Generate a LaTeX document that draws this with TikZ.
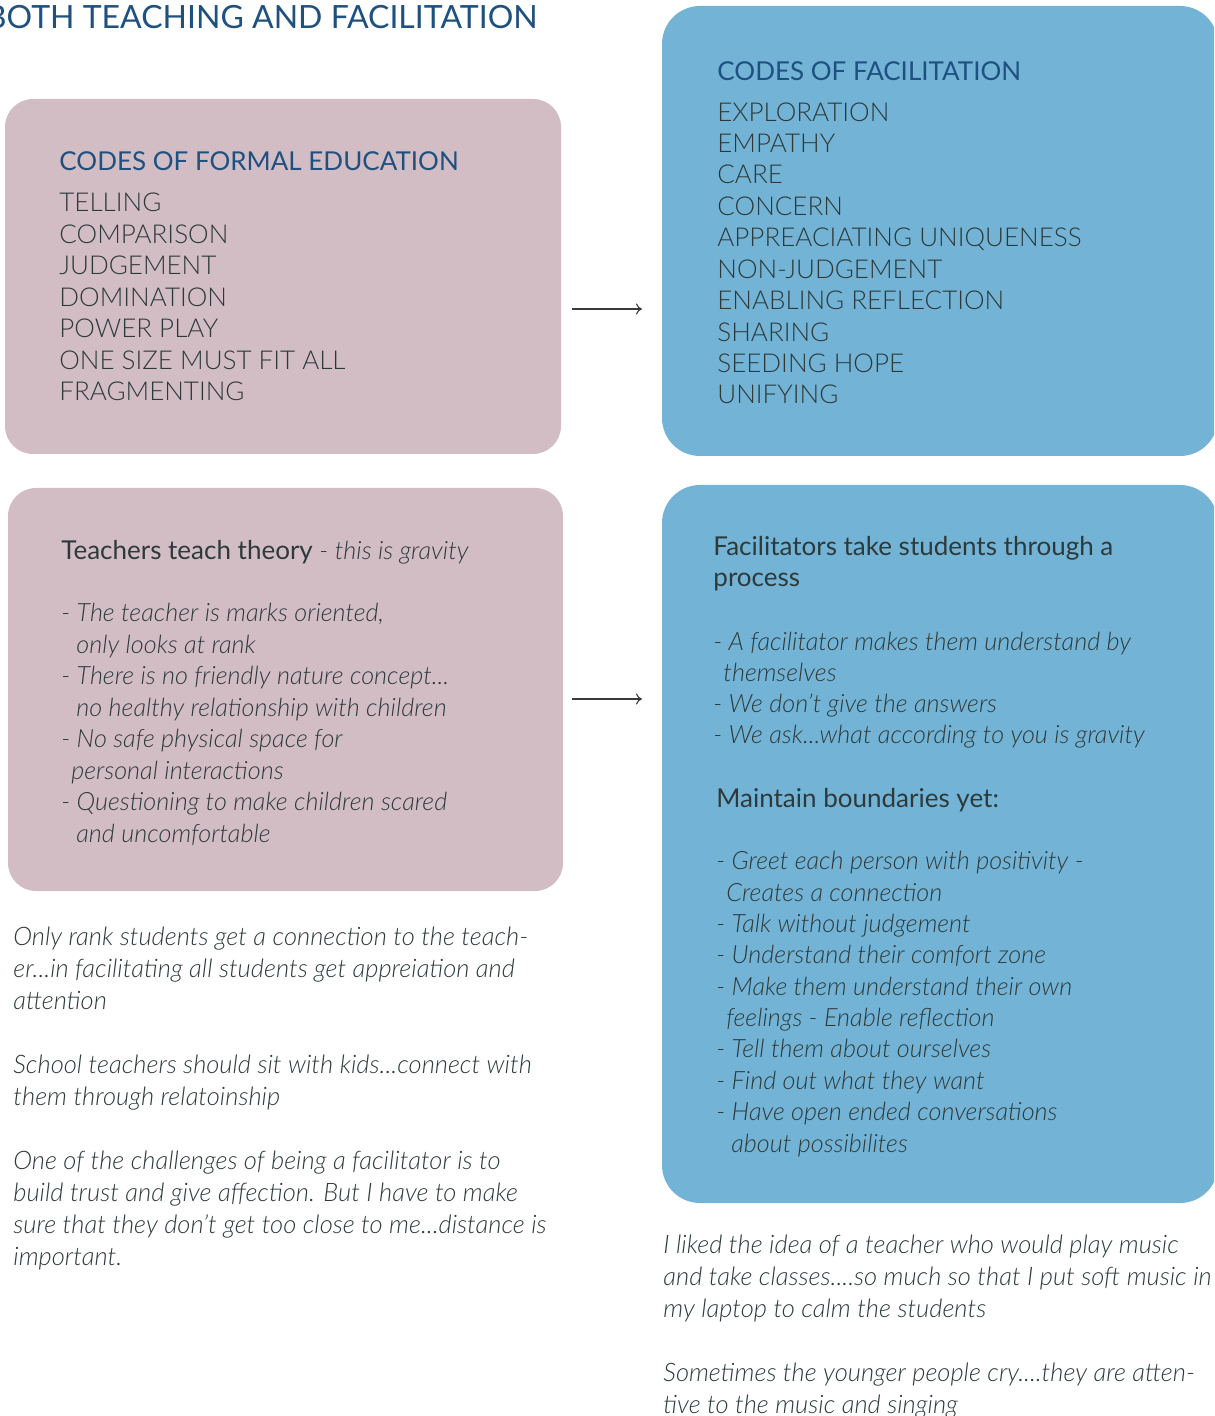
\documentclass[tikz,border=0pt]{standalone}
\usepackage{fontspec}
\setmainfont{Lato}[UprightFont=* Light, ItalicFont=* Light Italic, BoldFont=*, BoldItalicFont=* Italic]
\newfontfamily\latoreg{Lato}
\usetikzlibrary{arrows.meta}
\definecolor{pinkc}{HTML}{D3BDC5}
\definecolor{bluec}{HTML}{73B4D6}
\definecolor{headc}{HTML}{1E5080}
\definecolor{textc}{HTML}{2E3A3A}
\definecolor{arrc}{HTML}{3A3A3A}
\begin{document}
\begin{tikzpicture}[x=0.5pt,y=-0.5pt,
  pinkbox/.style={rounded corners=14pt, inner sep=0, fill=pinkc, draw=none},
  bluebox/.style={rounded corners=19pt, inner sep=0, fill=bluec, draw=none},
  txt/.style={anchor=base west, align=left, inner sep=0, text=textc},
  body/.style={txt, font=\fontsize{13}{#1}\selectfont},
  ibody/.style={txt, font=\itshape\fontsize{12.6}{#1}\selectfont},
  nbody/.style={txt, font=\itshape\fontsize{12.75}{#1}\selectfont},
  rbody/.style={txt, font=\latoreg\fontsize{13}{#1}\selectfont},
  head/.style={txt, text=headc, font=\latoreg\fontsize{13}{15.7}\selectfont},
  conn/.style={draw=arrc, line width=0.55pt, -{To[length=3pt,width=5.5pt]}}
]
\useasboundingbox (0,0) rectangle (1214,1416);
\clip (0,0) rectangle (1214,1416);

% title
\node[anchor=base east, inner sep=0, text=headc, font=\latoreg\fontsize{16}{19}\selectfont] (title) at (538,29) {BOTH TEACHING AND FACILITATION};

% boxes
\node[pinkbox, minimum width=278pt, minimum height=177.5pt] (pink1) at (283,276.5) {};
\node[bluebox, minimum width=278pt, minimum height=225pt] (blue1) at (940,231) {};
\node[pinkbox, minimum width=277.5pt, minimum height=201.5pt] (pink2) at (285.5,689.5) {};
\node[bluebox, minimum width=278pt, minimum height=359pt] (blue2) at (940,844) {};

% box 1 texts (base anchor = baseline of last line)
\node[head] (h1) at (59,171) {CODES OF FORMAL EDUCATION};
\node[body=15.75] (l1) at (59,401) {TELLING\\COMPARISON\\JUDGEMENT\\DOMINATION\\POWER PLAY\\ONE SIZE MUST FIT ALL\\FRAGMENTING};

\node[head] (h2) at (717,80.5) {CODES OF FACILITATION};
\node[body=15.72] (l2) at (717,404) {EXPLORATION\\EMPATHY\\CARE\\CONCERN\\APPREACIATING UNIQUENESS\\NON-JUDGEMENT\\ENABLING REFLECTION\\SHARING\\SEEDING HOPE\\UNIFYING};

% box 2 texts
\node[rbody=15.7] (h3) at (61,559) {Teachers teach theory {\fontspec{Lato Light Italic}\fontsize{12.6}{15.7}\selectfont - this is gravity}};
\node[ibody=15.715] (l3) at (61,842) {- The teacher is marks oriented,\\\hspace*{7.5pt}only looks at rank\\- There is no friendly nature concept...\\\hspace*{7.5pt}no healthy relationship with children\\- No safe physical space for\\\hspace*{5pt}personal interactions\\- Questioning to make children scared\\\hspace*{7.5pt}and uncomfortable};

\node[rbody=15.5] (h4) at (713,586) {Facilitators take students through a\\process};
\node[ibody=15.5] (l4) at (713,743) {- A facilitator makes them understand by\\\hspace*{5pt}themselves\\- We don't give the answers\\- We ask...what according to you is gravity};
\node[rbody=15.7] (h5) at (716,807) {Maintain boundaries yet:};
\node[ibody=15.67] (l5) at (716,1152) {- Greet each person with positivity -\\\hspace*{5pt}Creates a connection\\- Talk without judgement\\- Understand their comfort zone\\- Make them understand their own\\\hspace*{5pt}feelings - Enable reflection\\- Tell them about ourselves\\- Find out what they want\\- Have open ended conversations\\\hspace*{7.5pt}about possibilites};

% connectors
\coordinate (a1s) at (572,309);
\coordinate (a1e) at (642,309);
\coordinate (a2s) at (572,699);
\coordinate (a2e) at (642,699);
\draw[conn] (a1s) -- (a1e);
\draw[conn] (a2s) -- (a2e);

% free text
\node[nbody=16] (n1) at (13,1009) {Only rank students get a connection to the teach-\\er...in facilitating all students get appreiation and\\attention};
\node[nbody=16] (n2) at (13,1105) {School teachers should sit with kids...connect with\\them through relatoinship};
\node[nbody=16] (n3) at (13,1265) {One of the challenges of being a facilitator is to\\build trust and give affection. But I have to make\\sure that they don't get too close to me...distance is\\important.};
\node[nbody=16] (n4) at (663,1317) {I liked the idea of a teacher who would play music\\and take classes....so much so that I put soft music in\\my laptop to calm the students};
\node[nbody=16] (n5) at (663,1413) {Sometimes the younger people cry....they are atten-\\tive to the music and singing};
\end{tikzpicture}
\end{document}
